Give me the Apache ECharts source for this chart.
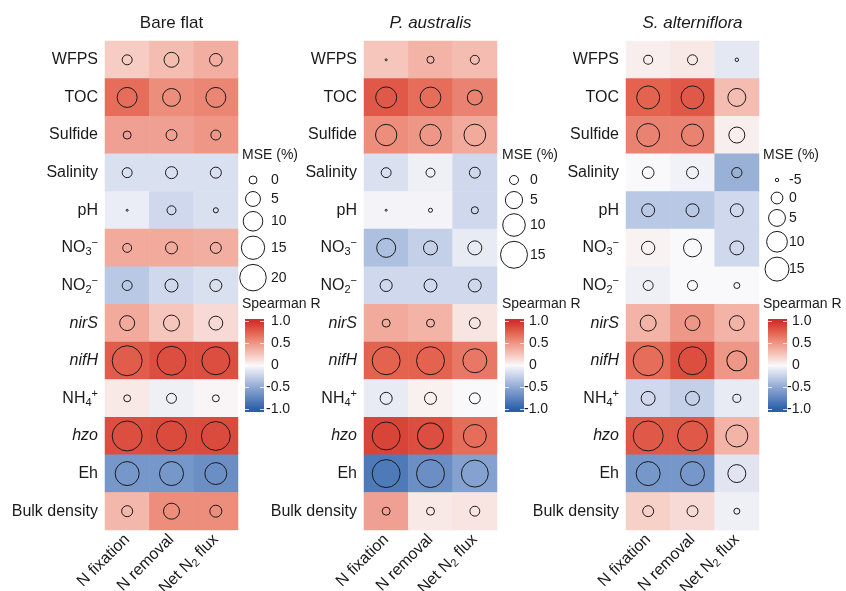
<!DOCTYPE html>
<html>
<head>
<meta charset="utf-8">
<script src="https://cdn.jsdelivr.net/npm/echarts@6/dist/echarts.min.js"></script>
<style>html,body{margin:0;padding:0;background:#fff;}#c{width:846px;height:591px;}</style>
</head>
<body>
<div id="c"></div>
<script>
// ---------------- data ----------------
const panels = ['Bare flat', 'P. australis', 'S. alterniflora'];
const processes = ['N fixation', 'N removal', 'Net N2 flux'];
const variables = ['WFPS', 'TOC', 'Sulfide', 'Salinity', 'pH', 'NO3-', 'NO2-', 'nirS', 'nifH', 'NH4+', 'hzo', 'Eh', 'Bulk density'];

// Spearman R (rows = variables, cols = processes)
const bareR = [
  [0.22, 0.30, 0.38], [0.70, 0.55, 0.58], [0.45, 0.45, 0.50], [-0.15, -0.15, -0.15],
  [-0.07, -0.20, -0.15], [0.40, 0.40, 0.38], [-0.30, -0.20, -0.15], [0.40, 0.25, 0.15],
  [0.78, 0.85, 0.85], [0.08, -0.05, 0.02], [0.85, 0.87, 0.87], [-0.62, -0.62, -0.68],
  [0.33, 0.55, 0.55]
];
const paR = [
  [0.25, 0.35, 0.30], [0.80, 0.70, 0.60], [0.55, 0.50, 0.40], [-0.15, -0.05, -0.20],
  [-0.03, -0.03, -0.20], [-0.35, -0.25, -0.08], [-0.20, -0.20, -0.20], [0.40, 0.35, 0.10],
  [0.75, 0.75, 0.65], [-0.08, 0.04, 0.00], [0.90, 0.85, 0.70], [-0.82, -0.68, -0.55],
  [0.45, 0.08, 0.10]
];
const saR = [
  [0.05, 0.08, -0.10], [0.75, 0.80, 0.30], [0.60, 0.60, 0.05], [0.00, -0.04, -0.45],
  [-0.30, -0.30, -0.20], [0.03, 0.00, -0.20], [-0.05, 0.00, 0.00], [0.35, 0.50, 0.35],
  [0.70, 0.85, 0.50], [-0.20, -0.25, -0.08], [0.80, 0.80, 0.35], [-0.62, -0.62, -0.12],
  [0.20, 0.15, -0.05]
];

// MSE (%) importance
const bareMSE = [
  [1.1, 5.0, 3.0], [10.5, 8.0, 10.5], [0.0, 1.8, 1.1], [1.1, 2.5, 1.8],
  [-2.0, 0.5, -1.2], [0.5, 2.5, 1.8], [1.1, 3.3, 2.5], [5.0, 6.0, 4.0],
  [26.0, 24.0, 22.5], [-0.5, 1.1, -0.5], [26.0, 26.0, 24.0], [16.0, 16.0, 13.0],
  [1.8, 6.0, 2.5]
];
const paMSE = [
  [-1.8, -0.7, 0.0], [8.4, 8.1, 3.4], [8.7, 8.7, 9.1], [0.4, 0.0, 0.9],
  [-1.8, -1.5, -0.7], [6.5, 2.7, 2.7], [1.5, 2.0, 2.0], [-0.4, -0.4, 0.9],
  [16.3, 16.3, 11.5], [1.5, 1.5, 0.9], [16.3, 13.8, 10.4], [16.3, 16.3, 15.0],
  [-0.4, -0.4, 0.4]
];
const saMSE = [
  [-2.0, -1.4, -4.7], [13.4, 13.4, 6.3], [13.4, 11.9, 4.0], [-0.1, 0.1, -1.2],
  [1.0, 1.0, 1.0], [1.3, 6.3, 1.9], [-1.4, -1.4, -3.6], [4.0, 2.9, 2.9],
  [26.2, 22.2, 8.9], [1.9, 1.9, -2.6], [26.2, 26.2, 11.9], [15.0, 15.0, 6.3],
  [-0.7, -0.7, -3.6]
];

const bareMSETicks = [0, 5, 10, 15, 20];
const paMSETicks = [0, 5, 10, 15];
const saMSETicks = [-5, 0, 5, 10, 15];
const rTicks = [1.0, 0.5, 0, -0.5, -1.0];
const rTickLabels = ['1.0', '0.5', '0', '-0.5', '-1.0'];

// ---------------- styling / layout ----------------
const FONT = "'Liberation Sans', Arial, Helvetica, sans-serif";
const TXT = '#1a1a1a';
const colorStops = [
  [-1.0, '#2b5fa8'], [-0.75, '#5d84bf'], [-0.5, '#8ea8d3'], [-0.25, '#c4d0e8'],
  [0, '#f9f8fa'], [0.25, '#f6c6bc'], [0.5, '#ef9787'], [0.75, '#e3634f'], [1.0, '#d2302a']
];
// area-linear size scales (diameter in px) per panel
const sizeScales = [
  m => Math.sqrt(Math.max(64 + 32 * m, 4)),
  m => Math.sqrt(Math.max(81 + 43 * m, 4)),
  m => Math.sqrt(Math.max(140 + 29 * m, 12))
];
const gridLefts = [105, 364, 626];
const GW = 133, GT = 41, GH = 489;
const legendX = [
  {title: 242, circ: 253, lab: 271, bar: 245, barLab: 271},
  {title: 502, circ: 514, lab: 530, bar: 505, barLab: 529},
  {title: 763, circ: 777, lab: 789, bar: 768, barLab: 792}
];

const labelRich = {
  'NO3-': '{t|NO}{sub|3}{sup|−}',
  'NO2-': '{t|NO}{sub|2}{sup|−}',
  'NH4+': '{t|NH}{sub|4}{sup|+}',
  'nirS': '{i|nirS}', 'nifH': '{i|nifH}', 'hzo': '{i|hzo}',
  'Net N2 flux': '{t|Net N}{sub|2}{t| flux}'
};
const rich = {
  t: {fontSize: 16, lineHeight: 20, color: TXT, fontFamily: FONT},
  i: {fontSize: 16, lineHeight: 20, color: TXT, fontFamily: FONT, fontStyle: 'italic'},
  sub: {fontSize: 11, lineHeight: 11, color: TXT, fontFamily: FONT, verticalAlign: 'bottom'},
  sup: {fontSize: 11, lineHeight: 11, color: TXT, fontFamily: FONT, verticalAlign: 'top'}
};
const fmt = v => labelRich[v] || ('{t|' + v + '}');

const Rs = [bareR, paR, saR];
const MSEs = [bareMSE, paMSE, saMSE];
const mseTicks = [bareMSETicks, paMSETicks, saMSETicks];

const grids = [], xAxes = [], yAxes = [], series = [], titles = [], graphics = [];
panels.forEach((p, k) => {
  grids.push({left: gridLefts[k], top: GT, width: GW, height: GH, containLabel: false, outerBoundsMode: 'none'});
  xAxes.push({
    type: 'category', gridIndex: k, data: processes,
    axisLine: {show: false}, axisTick: {show: false}, splitLine: {show: false},
    axisLabel: {rotate: 45, margin: 7, formatter: fmt, rich: rich, interval: 0}
  });
  yAxes.push({
    type: 'category', gridIndex: k, data: variables, inverse: true,
    axisLine: {show: false}, axisTick: {show: false}, splitLine: {show: false},
    axisLabel: {margin: 7, formatter: fmt, rich: rich, interval: 0}
  });
  const hd = [], sd = [];
  variables.forEach((v, i) => processes.forEach((q, j) => {
    hd.push([j, i, Rs[k][i][j]]);
    sd.push([j, i, MSEs[k][i][j]]);
  }));
  series.push({
    type: 'heatmap', xAxisIndex: k, yAxisIndex: k, data: hd,
    itemStyle: {borderWidth: 0}, emphasis: {disabled: true}, progressive: 0
  });
  const sf = sizeScales[k];
  series.push({
    type: 'scatter', xAxisIndex: k, yAxisIndex: k, data: sd, z: 5,
    symbol: 'circle', symbolSize: val => sf(val[2]),
    itemStyle: {color: 'rgba(0,0,0,0)', borderColor: '#1a1a1a', borderWidth: 1, opacity: 1},
    emphasis: {disabled: true}, silent: true
  });
  titles.push({
    text: p, left: gridLefts[k] + GW / 2, top: 15, textAlign: 'center', padding: 0,
    textStyle: {fontSize: 17, fontWeight: 'normal', color: TXT, fontFamily: FONT,
      fontStyle: k === 0 ? 'normal' : 'italic'}
  });

  // MSE legend
  const L = legendX[k];
  graphics.push({type: 'text', style: {text: 'MSE (%)', x: L.title, y: 155, fill: TXT,
    fontSize: 14, fontFamily: FONT, verticalAlign: 'middle', align: 'left'}});
  let cy = 180 - 9;
  mseTicks[k].forEach((m, idx) => {
    const d = sf(m);
    const h = Math.max(d + 5, 18);
    const c = cy + h / 2;
    graphics.push({type: 'circle', shape: {cx: L.circ, cy: c, r: d / 2},
      style: {fill: 'none', stroke: '#1a1a1a', lineWidth: 1}});
    graphics.push({type: 'text', style: {text: String(m), x: L.lab, y: c, fill: TXT,
      fontSize: 14, fontFamily: FONT, verticalAlign: 'middle', align: 'left'}});
    cy += h;
  });

  // Spearman colour bar
  graphics.push({type: 'text', style: {text: 'Spearman R', x: L.title, y: 304, fill: TXT,
    fontSize: 14, fontFamily: FONT, verticalAlign: 'middle', align: 'left'}});
  const barTop = 319, barH = 93, bw = 19;
  const yOf = v => 321.5 + (1 - v) / 2 * 88;
  const stops = colorStops.map(s => ({offset: (yOf(s[0]) - barTop) / barH, color: s[1]}))
    .sort((a, b) => a.offset - b.offset);
  stops.unshift({offset: 0, color: colorStops[colorStops.length - 1][1]});
  stops.push({offset: 1, color: colorStops[0][1]});
  graphics.push({type: 'rect', shape: {x: L.bar, y: barTop, width: bw, height: barH},
    style: {fill: new echarts.graphic.LinearGradient(0, 0, 0, 1, stops)}});
  rTicks.forEach((v, idx) => {
    const y = yOf(v);
    graphics.push({type: 'line', shape: {x1: L.bar, y1: y, x2: L.bar + 4, y2: y},
      style: {stroke: 'rgba(255,255,255,0.8)', lineWidth: 1}});
    graphics.push({type: 'line', shape: {x1: L.bar + bw - 4, y1: y, x2: L.bar + bw, y2: y},
      style: {stroke: 'rgba(255,255,255,0.8)', lineWidth: 1}});
    const lab = rTickLabels[idx];
    graphics.push({type: 'text', style: {text: lab, x: L.barLab - (lab[0] === '-' ? 5 : 0), y: y,
      fill: TXT, fontSize: 14, fontFamily: FONT, verticalAlign: 'middle', align: 'left'}});
  });
});

const chart = echarts.init(document.getElementById('c'), null, {renderer: 'canvas'});
chart.setOption({
  animation: false,
  backgroundColor: '#fff',
  textStyle: {fontFamily: FONT},
  title: titles,
  grid: grids,
  xAxis: xAxes,
  yAxis: yAxes,
  visualMap: {
    type: 'continuous', show: false, min: -1, max: 1, dimension: 2,
    seriesIndex: [0, 2, 4],
    inRange: {color: colorStops.map(s => s[1])}
  },
  series: series,
  graphic: graphics
});
</script>
</body>
</html>
